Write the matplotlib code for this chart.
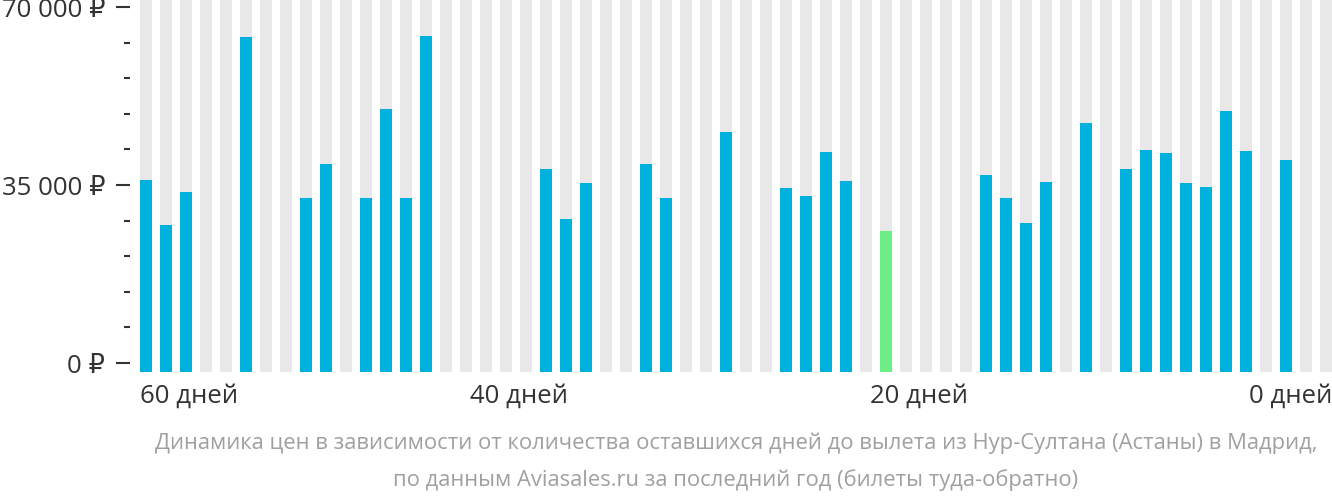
import numpy as np
import matplotlib.pyplot as plt

plt.rcParams['font.family'] = ['Open Sans', 'DejaVu Sans']

# slot 0 = 60 days before departure ... slot 59 = 0 days; None = no data
prices = [36000, 27100, 33600, None, None, 64100, None, None, 32400, 39100,
          None, 32400, 49900, 32400, 64300, None, None, None, None, None,
          38100, 28300, 35400, None, None, 39100, 32400, None, None, 45400,
          None, None, 34400, 32800, 41500, 35800, None, 26000, None, None,
          None, None, 37000, 32400, 27500, 35600, None, 47200, None, 38100,
          41900, 41300, 35400, 34600, 49600, 41700, None, 39900, None, None]
cheapest = 37
day_labels = ['60 дней', '40 дней', '20 дней', '0 дней']
day_pos = [-0.3, 18.65, 38.65, 59.3]
day_ha = ['left', 'center', 'center', 'right']
yticks = [0, 35000, 70000]
ytick_labels = ['0 ₽', '35 000 ₽', '70 000 ₽']

ymin, ymax = -1770, 71570
blue = '#00b0dd'
green = '#6ced86'
grey = '#e8e8e8'

fig = plt.figure(figsize=(13.32, 5.02), dpi=100)
ax = fig.add_axes([140/1332, 129/502, 1192/1332, 373/502])

x = np.arange(len(prices))
ax.bar(x, ymax - ymin, bottom=ymin, width=0.6, color=grey, zorder=1)
for i, p in enumerate(prices):
    if p is None:
        continue
    c = green if i == cheapest else blue
    ax.bar(i, p - ymin, bottom=ymin, width=0.6, color=c, zorder=2)

ax.set_xlim(-0.3, 59.3)
ax.set_ylim(ymin, ymax)
for s in ['top', 'right', 'bottom']:
    ax.spines[s].set_visible(False)
ax.spines['left'].set_position(('outward', 7.2))
ax.spines['left'].set_visible(False)
ax.set_xticks([])
ax.set_yticks(yticks)
ax.set_yticklabels(ytick_labels)
ax.set_yticks(np.arange(0, 70001, 7000), minor=True)
ax.tick_params(axis='y', which='major', length=10, width=1.5, color='#333333',
               labelsize=18.5, labelcolor='#333333', pad=8)
ax.tick_params(axis='y', which='minor', length=4.3, width=1.5, color='#333333')

for lab, p, ha in zip(day_labels, day_pos, day_ha):
    ax.text(p, -0.063, lab, transform=ax.get_xaxis_transform(), ha=ha, va='center',
            fontsize=18.5, color='#333333')

fig.text(736/1332, 1 - 443/502,
         'Динамика цен в зависимости от количества оставшихся дней до вылета из Нур-Султана (Астаны) в Мадрид,',
         ha='center', va='center', fontsize=15.8, color='#a0a0a0')
fig.text(736/1332, 1 - 480/502,
         'по данным Aviasales.ru за последний год (билеты туда-обратно)',
         ha='center', va='center', fontsize=15.8, color='#a0a0a0')

fig.savefig('out.png', dpi=100)
